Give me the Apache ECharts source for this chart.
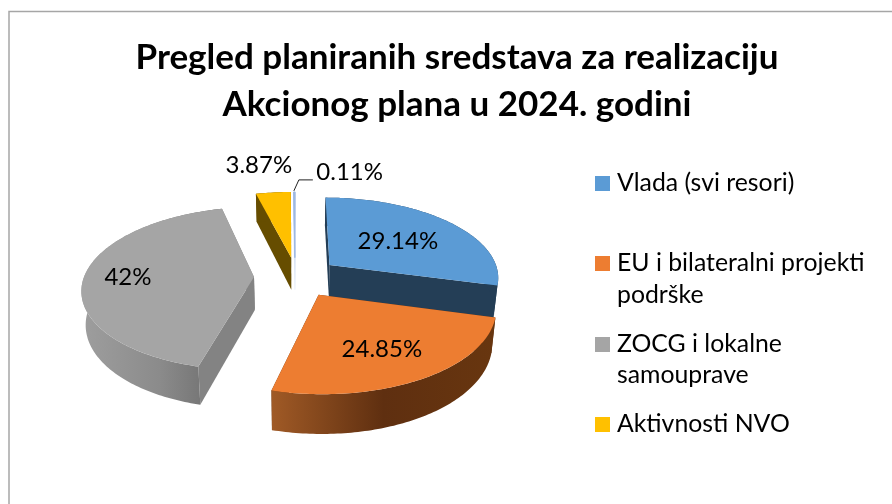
<!DOCTYPE html>
<html>
<head>
<meta charset="utf-8">
<style>html,body{margin:0;padding:0;background:#fff}#c{width:892px;height:504px}</style>
<script src="https://cdn.jsdelivr.net/npm/echarts@6/dist/echarts.min.js"></script>
</head>
<body>
<div id="c"></div>
<script>
// ---- data ----
const titleText = 'Pregled planiranih sredstava za realizaciju\nAkcionog plana u 2024. godini';
const categories = ['Vlada (svi resori)', 'EU i bilateralni projekti', 'ZOCG i lokalne', 'Aktivnosti NVO', 'Ostalo'];
const legendContinuation = ['', 'podrške', 'samouprave', '', ''];
const values = [29.14, 24.85, 42, 3.87, 0.11];
const valueLabels = ['29.14%', '24.85%', '42%', '3.87%', '0.11%'];

// ---- styles / layout ----
const FONT = 'Lato, "Open Sans", sans-serif';
const topColors = ['#5b9bd5', '#ed7d31', '#a5a5a5', '#ffc000', '#9db8e2'];
const G = {x: 296.5, y: 277, rx: 170, ry: 80, k: 0.14, h: 33, f: 0.98, explode: 0.25};
const labelRadial = [0.52, 0.61, 0.73, 1.5, 1.5];
const labelNudge = [[4,-1],[3,6],[-2,0],[-7,0],[54,8]];
const sliceNudgeX = [0, 0, 0, 0, -1.5];
const legendTops = [171, 251, 332, 412];
const lg = (a, b, stops) => new echarts.graphic.LinearGradient(a, 0, b, 0, stops);
const radialWall = ['#243e56', '#5f2f10', '#838383', '#664d00',
  new echarts.graphic.LinearGradient(0, 0, 0, 1, [{offset:0,color:'#9db8e2'},{offset:1,color:'#f4f7fc'}])];
const outerWall = [
  '#243e56',
  lg(0, 1, [{offset:0,color:'#a05a26'},{offset:.5,color:'#5f2f10'},{offset:1,color:'#68360f'}]),
  lg(0, 1, [{offset:0,color:'#9e9e9e'},{offset:.55,color:'#8b8b8b'},{offset:1,color:'#6c6c6c'}]),
  '#664d00', null
];

const total = values.reduce((a, b) => a + b, 0);
const starts = [];
values.reduce((acc, v, i) => { starts[i] = acc; return acc + v; }, 0);

function proj(ux, uy, low, dx) {
  const s = 1 / (1 - G.k * uy);
  const f = low ? G.f : 1;
  return [G.x + (dx || 0) + ux * G.rx * s * f, G.y + uy * G.ry * s + (low ? G.h * s : 0)];
}

function renderSlice(i) {
  return function (params, api) {
    const v = api.value(0);
    const a0 = starts[i] / total * Math.PI * 2;
    const a1 = a0 + v / total * Math.PI * 2;
    const m = (a0 + a1) / 2;
    const ax = G.explode * Math.sin(m), ay = -G.explode * Math.cos(m);
    const at = (a, r) => [ax + r * Math.sin(a), ay - r * Math.cos(a)];
    const n = Math.max(2, Math.ceil((a1 - a0) / (Math.PI / 180)));
    const nudge = sliceNudgeX[i];
    const arcTop = [], arcLow = [];
    for (let j = 0; j <= n; j++) {
      const u = at(a0 + (a1 - a0) * j / n, 1);
      arcTop.push(proj(u[0], u[1], false, nudge));
      arcLow.push(proj(u[0], u[1], true, nudge));
    }
    const apexTop = proj(ax, ay, false, nudge), apexLow = proj(ax, ay, true, nudge);
    const thin = i === 4;
    const children = [];
    // the sliver is a single pixel wide, so it also needs an outline to stay visible
    const wallStyle = thin
      ? {fill: radialWall[i], stroke: radialWall[i], lineWidth: 1}
      : {fill: radialWall[i]};
    children.push({type: 'polygon', shape: {points: [apexTop, arcTop[0], arcLow[0], apexLow]}, style: wallStyle});
    children.push({type: 'polygon', shape: {points: [apexTop, arcTop[n], arcLow[n], apexLow]}, style: wallStyle});
    if (outerWall[i]) {
      children.push({type: 'polygon', shape: {points: arcTop.concat(arcLow.slice().reverse())}, style: {fill: outerWall[i]}});
    }
    children.push({
      type: 'polygon', shape: {points: [apexTop].concat(arcTop)},
      style: thin ? {fill: topColors[i], stroke: topColors[i], lineWidth: 1} : {fill: topColors[i]}
    });
    const lu = at(m, labelRadial[i]);
    const lp = proj(lu[0], lu[1], false);
    children.push({
      type: 'text', x: lp[0] + labelNudge[i][0], y: lp[1] + labelNudge[i][1],
      style: {text: valueLabels[i], fill: '#000', font: '24px ' + FONT, align: 'center', verticalAlign: 'middle'}
    });
    if (thin) {
      const o = arcTop[0];
      children.push({
        type: 'polyline',
        shape: {points: [[o[0], o[1] - 1], [o[0] + 5, o[1] - 12], [o[0] + 19, o[1] - 12]]},
        style: {stroke: '#222', lineWidth: 1, fill: null}
      });
    }
    return {type: 'group', children};
  };
}

const chart = echarts.init(document.getElementById('c'), null, {renderer: 'canvas'});
chart.setOption({
  animation: false,
  backgroundColor: '#fff',
  title: {
    text: titleText, left: 452, top: 29, textAlign: 'center',
    textStyle: {fontFamily: FONT, fontWeight: 700, fontSize: 35, lineHeight: 47, color: '#000'}
  },
  legend: categories.slice(0, 4).map((c, i) => ({
    data: [c], left: 595, top: legendTops[i], orient: 'vertical', padding: 0,
    itemWidth: 15, itemHeight: 15, icon: 'rect', selectedMode: false,
    textStyle: {fontFamily: FONT, fontSize: 24.8, color: '#000', padding: [0, 0, 0, 2]}
  })),
  graphic: [
    {type: 'polyline', silent: true, shape: {points: [[9, 504], [9, 11.5], [892, 11.5]]},
     style: {stroke: '#a6a6a6', lineWidth: 1.5, fill: null}},
    {type: 'text', left: 617, top: 283, silent: true, style: {text: legendContinuation[1], font: '24.8px ' + FONT, fill: '#000'}},
    {type: 'text', left: 617, top: 363, silent: true, style: {text: legendContinuation[2], font: '24.8px ' + FONT, fill: '#000'}}
  ],
  series: categories.map((c, i) => ({
    type: 'custom', name: c, coordinateSystem: 'none', silent: true,
    itemStyle: {color: topColors[i]},
    renderItem: renderSlice(i),
    data: [[values[i]]]
  }))
});
</script>
</body>
</html>
